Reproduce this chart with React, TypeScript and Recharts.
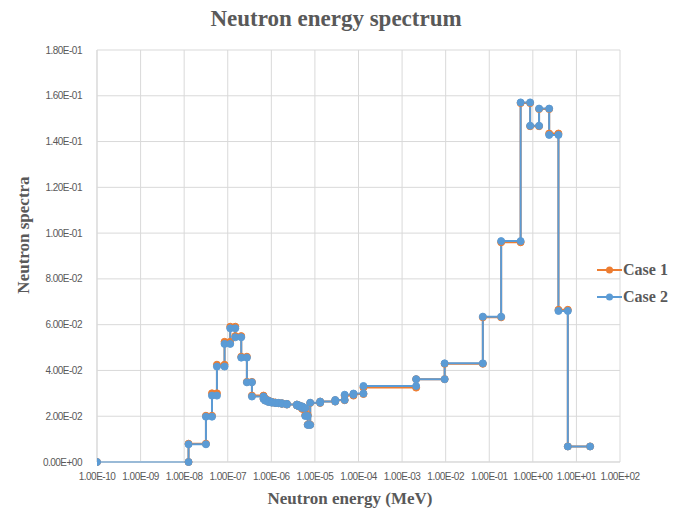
import React from "react";
import { LineChart, Line, XAxis, YAxis, CartesianGrid } from "recharts";

// Bin edges (MeV) and group values per bin
const edges = [
  1e-10, 1.26e-8, 3.16e-8, 4.35e-8, 5.65e-8, 8.45e-8, 1.14e-7, 1.49e-7, 2.04e-7, 2.75e-7,
  3.59e-7, 6.62e-7, 7.24e-7, 8.63e-7, 1.03e-6, 1.23e-6, 1.46e-6, 1.75e-6, 2.28e-6, 3.86e-6,
  4.37e-6, 5.12e-6, 6.0e-6, 6.84e-6, 7.8e-6, 1.32e-5, 2.92e-5, 4.82e-5, 7.67e-5, 1.3e-4,
  2.1e-3, 9.48e-3, 7.13e-2, 0.1875, 0.525, 0.867, 1.39, 2.37, 3.87, 6.35, 20.6,
];

const case1 = [
  0, 0.008, 0.0202, 0.03, 0.0425, 0.0525, 0.0591, 0.055, 0.046, 0.035,
  0.029, 0.0277, 0.0269, 0.0263, 0.026, 0.0258, 0.0257, 0.0254, 0.0251, 0.0247,
  0.0242, 0.0232, 0.0205, 0.0163, 0.0258, 0.0264, 0.027, 0.029, 0.0297, 0.0325,
  0.0362, 0.0429, 0.0632, 0.096, 0.1568, 0.1467, 0.1542, 0.1435, 0.0665, 0.0068,
];

const case2 = [
  0, 0.00774, 0.0198, 0.029, 0.0417, 0.0516, 0.0584, 0.0545, 0.0456, 0.0348,
  0.0286, 0.0275, 0.0268, 0.0262, 0.0259, 0.0258, 0.0257, 0.0254, 0.0251, 0.0247,
  0.0243, 0.0236, 0.0201, 0.0162, 0.0259, 0.0264, 0.0271, 0.0294, 0.0299, 0.0332,
  0.0362, 0.0431, 0.0635, 0.0965, 0.1571, 0.1469, 0.1544, 0.1429, 0.066, 0.00678,
];

const xTicks = [1e-10, 1e-9, 1e-8, 1e-7, 1e-6, 1e-5, 1e-4, 1e-3, 1e-2, 1e-1, 1, 10, 100];
const yTicks = [0, 0.02, 0.04, 0.06, 0.08, 0.1, 0.12, 0.14, 0.16, 0.18];

const ORANGE = "#ED7D31";
const BLUE = "#5B9BD5";
const TEXT = "#595959";
const GRID = "#D9D9D9";

const data: { e: number; c1: number; c2: number }[] = [];
for (let i = 0; i < case2.length; i++) {
  data.push({ e: edges[i], c1: case1[i], c2: case2[i] });
  data.push({ e: edges[i + 1], c1: case1[i], c2: case2[i] });
}

function sci(v: number): string {
  if (v === 0) return "0.00E+00";
  const exp = Math.floor(Math.log10(Math.abs(v)) + 1e-9);
  const mant = v / Math.pow(10, exp);
  const sign = exp < 0 ? "-" : "+";
  const e = Math.abs(exp).toString().padStart(2, "0");
  return mant.toFixed(2) + "E" + sign + e;
}

const tickFont = {
  fontFamily: "'Liberation Sans', Arial, sans-serif",
  fontSize: 10,
  letterSpacing: -0.5,
  fill: TEXT,
};
const serifBold: React.CSSProperties = {
  fontFamily: "'Liberation Serif', 'Times New Roman', serif",
  fontWeight: "bold",
  color: TEXT,
  position: "absolute",
  whiteSpace: "nowrap",
};

function LegendItem({ color, label, top }: { color: string; label: string; top: number }) {
  return (
    <div style={{ position: "absolute", left: 597, top, height: 20, display: "flex", alignItems: "center" }}>
      <svg width={25} height={20}>
        <line x1={0} y1={10} x2={25} y2={10} stroke={color} strokeWidth={2} />
        <circle cx={12.5} cy={10} r={3.5} fill={color} />
      </svg>
      <span style={{ ...serifBold, position: "static", fontSize: 16, marginLeft: 1 }}>{label}</span>
    </div>
  );
}

export default function App() {
  return (
    <div style={{ position: "absolute", left: 0, top: 0, width: 685, height: 512, background: "#fff" }}>
      <LineChart
        width={685}
        height={512}
        data={data}
        margin={{ top: 50, right: 65, bottom: 20, left: 0 }}
      >
        <CartesianGrid stroke={GRID} strokeWidth={1} />
        <XAxis
          dataKey="e"
          type="number"
          scale="log"
          domain={[1e-10, 100]}
          ticks={xTicks}
          tickFormatter={sci}
          tick={{ ...tickFont, dy: 3 }}
          tickLine={false}
          axisLine={{ stroke: GRID }}
          height={30}
          interval={0}
          allowDataOverflow
        />
        <YAxis
          type="number"
          domain={[0, 0.18]}
          ticks={yTicks}
          tickFormatter={sci}
          tick={{ ...tickFont, dx: -7 }}
          tickLine={false}
          axisLine={{ stroke: GRID }}
          width={97}
          interval={0}
        />
        <Line
          type="linear"
          dataKey="c1"
          stroke={ORANGE}
          strokeWidth={2}
          dot={{ r: 3.5, fill: ORANGE, stroke: ORANGE, strokeWidth: 1 }}
          isAnimationActive={false}
        />
        <Line
          type="linear"
          dataKey="c2"
          stroke={BLUE}
          strokeWidth={2}
          dot={{ r: 3.5, fill: BLUE, stroke: BLUE, strokeWidth: 1 }}
          isAnimationActive={false}
        />
      </LineChart>
      <div style={{ ...serifBold, fontSize: 23, left: 0, width: 672, top: 6, textAlign: "center" }}>
        Neutron energy spectrum
      </div>
      <div style={{ ...serifBold, fontSize: 17, left: 0, width: 700, top: 489, textAlign: "center" }}>
        Neutron energy (MeV)
      </div>
      <div
        style={{
          ...serifBold,
          fontSize: 17,
          left: 24,
          top: 235,
          transform: "translate(-50%, -50%) rotate(-90deg)",
        }}
      >
        Neutron spectra
      </div>
      <LegendItem color={ORANGE} label="Case 1" top={260} />
      <LegendItem color={BLUE} label="Case 2" top={287} />
    </div>
  );
}
